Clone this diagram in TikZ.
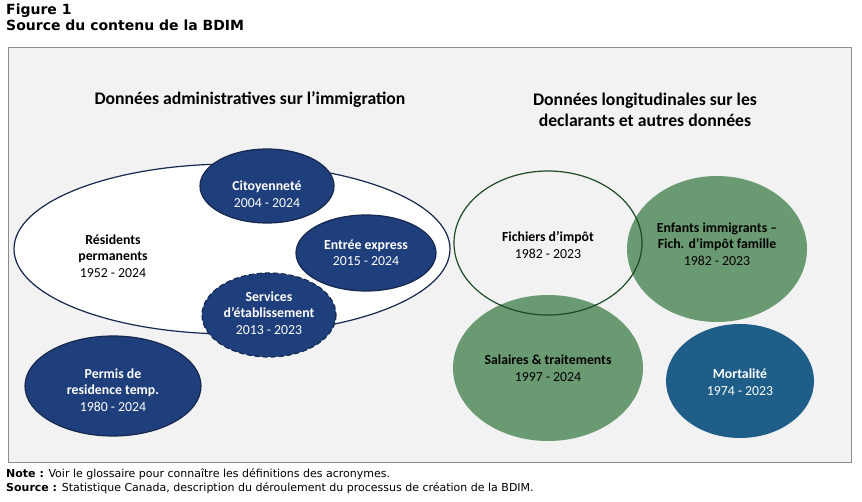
\documentclass[tikz,border=0pt]{standalone}
\usepackage{fontspec}
\setmainfont{Carlito}
\newfontfamily\verdana{DejaVu Sans}
\usetikzlibrary{positioning}
\definecolor{FrameGray}{rgb}{0.95, 0.95, 0.95}
\definecolor{BorderGray}{rgb}{0.55, 0.55, 0.55}
\definecolor{ImmNavy}{HTML}{1F3F7C}
\definecolor{ImmEdge}{HTML}{16284F}
\definecolor{TaxGreen}{HTML}{6A9A72}
\definecolor{TaxEdge}{HTML}{1E4A26}
\definecolor{MortBlue}{HTML}{1E5E88}

\begin{document}
\begin{tikzpicture}[
	x=1pt, y=-1pt,
	navyblob/.style={fill=ImmNavy, draw=ImmEdge, line width=1.2pt},
	lbl/.style={align=center, font=\fontsize{13.8}{16.5}\selectfont},
	wlbl/.style={lbl, text=white},
	head/.style={align=center, font=\fontsize{17.7}{21}\selectfont\bfseries}
]
	\useasboundingbox (0,0) rectangle (862,502);

	% title and frame
	\node[anchor=north west, inner sep=0pt, align=left, font=\verdana\fontsize{14}{16}\selectfont\bfseries] (title) at (6,4) {Figure 1\\Source du contenu de la BDIM};
	\draw[BorderGray, fill=FrameGray, line width=1pt] (8,48) rectangle (851,462);

	\node[head] (hleft) at (250,100) {Données administratives sur l’immigration};
	\node[head] (hright) at (645,110) {Données longitudinales sur les\\declarants et autres données};

	% immigration ellipses
	\draw[fill=white, draw=ImmEdge, line width=1.2pt] (232,249) ellipse (218 and 85);
	\node[lbl] (rp) at (113,256) {\textbf{Résidents}\\\textbf{permanents}\\1952 - 2024};

	\draw[navyblob] (267,186) ellipse (67 and 37);
	\node[wlbl] (cit) at (267,194) {\textbf{Citoyenneté}\\2004 - 2024};

	\draw[navyblob] (366,253) ellipse (70 and 38);
	\node[wlbl] (ee) at (366,253) {\textbf{Entrée express}\\2015 - 2024};

	\draw[navyblob, dashed, dash pattern=on 5pt off 3pt] (269,315) ellipse (67 and 42);
	\node[wlbl] (serv) at (269,313) {\textbf{Services}\\\textbf{d’établissement}\\2013 - 2023};

	\draw[navyblob] (113,386) ellipse (88 and 50);
	\node[wlbl] (prt) at (113,390) {\textbf{Permis de}\\\textbf{residence temp.}\\1980 - 2024};

	% tax ellipses
	\fill[TaxGreen] (717,249) ellipse (90 and 73);
	\node[lbl] (enf) at (717,244) {\textbf{Enfants immigrants –}\\\textbf{Fich. d’impôt famille}\\1982 - 2023};

	\fill[TaxGreen] (548,368) ellipse (95 and 73);
	\node[lbl] (sal) at (548,368) {\textbf{Salaires \& traitements}\\1997 - 2024};

	\draw[TaxEdge, line width=1.2pt] (548,243) ellipse (94 and 72);
	\node[lbl] (fich) at (548,245) {\textbf{Fichiers d’impôt}\\1982 - 2023};

	\fill[MortBlue] (740,381) ellipse (74 and 57);
	\node[wlbl] (mort) at (740,382) {\textbf{Mortalité}\\1974 - 2023};

	% notes
	\node[anchor=north west, inner sep=0pt, align=left, font=\verdana\fontsize{11}{14}\selectfont] (notes) at (6,469) {\textbf{Note :} Voir le glossaire pour connaître les définitions des acronymes.\\\textbf{Source :} Statistique Canada, description du déroulement du processus de création de la BDIM.};
\end{tikzpicture}
\end{document}
